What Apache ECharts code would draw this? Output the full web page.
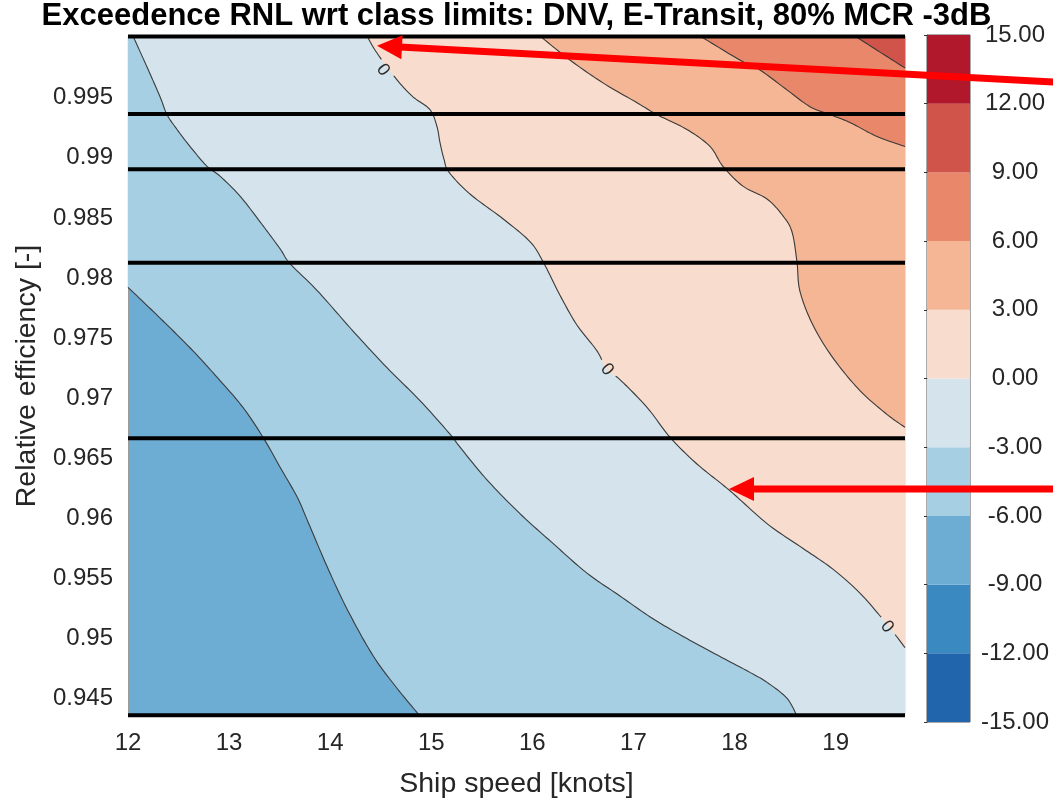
<!DOCTYPE html>
<html>
<head>
<meta charset="utf-8">
<script src="https://cdn.jsdelivr.net/npm/echarts@6/dist/echarts.min.js"></script>
<style>
  html, body { margin: 0; padding: 0; background: #fff; }
  #main { width: 1053px; height: 804px; }
</style>
</head>
<body>
<div id="main"></div>
<script>
// ---- axis extents ----
const SPEED_MIN = 12, SPEED_MAX = 19.686;
const EFF_MIN = 0.94356, EFF_MAX = 1.00014;

// ---- tick labels ----
const speedTicks = [12, 13, 14, 15, 16, 17, 18, 19];
const effTicks = [0.945, 0.95, 0.955, 0.96, 0.965, 0.97, 0.975, 0.98, 0.985, 0.99, 0.995];

// ---- contour levels (dB) and band colours ----
const levels = [-15, -12, -9, -6, -3, 0, 3, 6, 9, 12, 15];
const levelColors = ['#2166ac', '#3a89c1', '#6eadd3', '#a6cfe3', '#d5e4ec',
                     '#f8dccd', '#f5b696', '#e8876a', '#d0544a', '#b2182b'];

// ---- contour lines, [ship speed (kn), relative efficiency] ----
const contourM6 = [
  [12.000, 0.97923], [12.317, 0.97667], [12.643, 0.97394], [12.910, 0.97147],
  [13.137, 0.96924], [13.335, 0.96676], [13.503, 0.96428], [13.672, 0.96180],
  [13.771, 0.95990], [13.968, 0.95602], [14.166, 0.95247], [14.423, 0.94859],
  [14.661, 0.94587], [14.888, 0.94356]
];
const contourM3 = [
  [12.049, 1.00014], [12.188, 0.99756], [12.317, 0.99508], [12.386, 0.99360],
  [12.485, 0.99236], [12.613, 0.99095], [12.781, 0.98930], [12.910, 0.98848],
  [13.108, 0.98682], [13.306, 0.98468], [13.503, 0.98245], [13.602, 0.98121],
  [13.869, 0.97898], [14.226, 0.97559], [14.562, 0.97254], [14.888, 0.96981],
  [15.185, 0.96701], [15.284, 0.96593], [15.551, 0.96321], [15.877, 0.96040],
  [16.204, 0.95792], [16.540, 0.95545], [16.866, 0.95355], [17.193, 0.95165],
  [17.529, 0.95000], [17.856, 0.94851], [18.152, 0.94719], [18.321, 0.94636],
  [18.518, 0.94504], [18.617, 0.94356]
];
const contour0 = [
  [14.364, 1.00014], [14.463, 0.99872], [14.661, 0.99649], [14.819, 0.99508],
  [14.987, 0.99401], [15.056, 0.99261], [15.086, 0.99128], [15.126, 0.98988],
  [15.175, 0.98881], [15.383, 0.98699], [15.709, 0.98493], [15.976, 0.98303],
  [16.105, 0.98137], [16.273, 0.97857], [16.441, 0.97609], [16.639, 0.97394],
  [16.738, 0.97237], [16.866, 0.97155], [17.134, 0.96924], [17.361, 0.96676],
  [17.628, 0.96453], [17.955, 0.96230], [18.321, 0.95957], [18.647, 0.95767],
  [18.973, 0.95578], [19.240, 0.95379], [19.438, 0.95190], [19.537, 0.95090],
  [19.686, 0.94925]
];
const contour3 = [
  [16.075, 1.00014], [16.372, 0.99814], [16.698, 0.99624], [17.035, 0.99459],
  [17.232, 0.99360], [17.529, 0.99236], [17.757, 0.99095], [17.885, 0.98930],
  [18.083, 0.98765], [18.321, 0.98658], [18.479, 0.98517], [18.568, 0.98385],
  [18.617, 0.98137], [18.647, 0.97890], [18.775, 0.97609], [18.973, 0.97336],
  [19.240, 0.97064], [19.507, 0.96866], [19.686, 0.96758]
];
const contour6 = [
  [17.658, 1.00014], [18.053, 0.99814], [18.251, 0.99731], [18.518, 0.99566],
  [18.746, 0.99426], [18.944, 0.99360], [19.142, 0.99294], [19.409, 0.99178],
  [19.686, 0.99095]
];
const contour9 = [
  [19.191, 1.00014], [19.409, 0.99896], [19.686, 0.99748]
];

// positions of the "0" labels on the 0 dB contour
const zeroLabels = [[14.522, 0.99731], [16.738, 0.97237], [19.507, 0.95099]];

// reference efficiencies drawn as thick horizontal lines
const refEfficiencies = [1.0001, 0.99365, 0.98905, 0.98127, 0.96668, 0.94362];

// annotation arrows: tip and tail in [speed, efficiency]
const arrowTips = [[14.463, 0.99932], [17.945, 0.96244]];
const arrowTails = [[21.219, 0.99629], [21.219, 0.96244]];

const FONT = '"Liberation Sans", Arial, Helvetica, sans-serif';
const TXT = '#262626';

const contours = [
  { level: -6, pts: contourM6, corners: ['BR', 'TR', 'TL'] },
  { level: -3, pts: contourM3, corners: ['BR', 'TR'] },
  { level: 0,  pts: contour0,  corners: ['TR'], labels: zeroLabels },
  { level: 3,  pts: contour3,  corners: ['TR'] },
  { level: 6,  pts: contour6,  corners: ['TR'] },
  { level: 9,  pts: contour9,  corners: ['TR'] }
];
const cornerValues = {
  TL: [SPEED_MIN, EFF_MAX], TR: [SPEED_MAX, EFF_MAX], BR: [SPEED_MAX, EFF_MIN]
};

// Catmull-Rom resampling of a pixel polyline
function smoothLine(pts, n) {
  const out = [];
  const f = (a, b, c, d, t) => {
    const t2 = t * t, t3 = t2 * t;
    return 0.5 * (2 * b + (-a + c) * t + (2 * a - 5 * b + 4 * c - d) * t2 + (-a + 3 * b - 3 * c + d) * t3);
  };
  for (let i = 0; i < pts.length - 1; i++) {
    const p0 = pts[Math.max(i - 1, 0)], p1 = pts[i], p2 = pts[i + 1], p3 = pts[Math.min(i + 2, pts.length - 1)];
    for (let k = 0; k < n; k++) {
      const t = k / n;
      out.push([f(p0[0], p1[0], p2[0], p3[0], t), f(p0[1], p1[1], p2[1], p3[1], t)]);
    }
  }
  out.push(pts[pts.length - 1].slice());
  return out;
}

// break a dense polyline where it passes under a label
function splitAround(pts, centers, r) {
  const segs = [];
  let cur = [];
  pts.forEach(p => {
    const hidden = centers.some(c => Math.hypot(p[0] - c[0], p[1] - c[1]) < r);
    if (hidden) { if (cur.length > 1) segs.push(cur); cur = []; }
    else cur.push(p);
  });
  if (cur.length > 1) segs.push(cur);
  return segs;
}

function contourSeries(c) {
  const fill = levelColors[levels.indexOf(c.level)];
  return {
    type: 'custom',
    xAxisIndex: 0, yAxisIndex: 0,
    data: c.pts,
    silent: true,
    renderItem: function (params, api) {
      if (params.dataIndex !== 0) return null;
      const px = c.pts.map(p => api.coord(p));
      const dense = smoothLine(px, 12);
      const poly = dense.concat(c.corners.map(k => api.coord(cornerValues[k])));
      const children = [{
        type: 'polygon',
        shape: { points: poly },
        style: { fill: fill, stroke: fill, lineWidth: 0.5 }
      }];
      const labelPx = (c.labels || []).map(l => api.coord(l));
      splitAround(dense, labelPx, 10).forEach(seg => {
        children.push({
          type: 'polyline',
          shape: { points: seg },
          style: { stroke: '#3a3a3a', lineWidth: 1.1, fill: null }
        });
      });
      labelPx.forEach(lp => {
        let best = 0, bd = Infinity;
        dense.forEach((p, i) => {
          const d = Math.hypot(p[0] - lp[0], p[1] - lp[1]);
          if (d < bd) { bd = d; best = i; }
        });
        const a = dense[Math.max(best - 4, 0)], b = dense[Math.min(best + 4, dense.length - 1)];
        const ang = -Math.atan2(b[1] - a[1], b[0] - a[0]);
        children.push({
          type: 'text',
          x: lp[0], y: lp[1],
          rotation: ang,
          style: {
            text: String(c.level), fill: '#2b2b2b', font: '18px ' + FONT,
            align: 'center', verticalAlign: 'middle'
          }
        });
      });
      return { type: 'group', children: children };
    }
  };
}

const colorbarBands = levels.slice(0, -1).map((lo, i) => [lo, levels[i + 1]]);

const chart = echarts.init(document.getElementById('main'), null, { renderer: 'canvas' });

const option = {
  animation: false,
  backgroundColor: '#ffffff',
  grid: [
    { left: 128, top: 36, width: 777, height: 685, show: true,
      backgroundColor: levelColors[2], borderWidth: 0 },
    { left: 927, top: 35, width: 43, height: 687, show: true,
      backgroundColor: 'transparent', borderColor: '#555555', borderWidth: 1 }
  ],
  xAxis: [
    {
      type: 'value', gridIndex: 0, min: SPEED_MIN, max: SPEED_MAX,
      name: 'Ship speed [knots]', nameLocation: 'middle', nameGap: 54,
      nameTextStyle: { fontFamily: FONT, fontSize: 28.5, color: TXT },
      axisLine: { show: false }, axisTick: { show: false }, splitLine: { show: false },
      axisLabel: {
        customValues: speedTicks, margin: 15,
        fontFamily: FONT, fontSize: 24, color: TXT,
        formatter: v => String(v)
      }
    },
    { type: 'value', gridIndex: 1, min: 0, max: 1, show: false }
  ],
  yAxis: [
    {
      type: 'value', gridIndex: 0, min: EFF_MIN, max: EFF_MAX,
      name: 'Relative efficiency [-]', nameLocation: 'middle', nameGap: 84,
      nameTextStyle: { fontFamily: FONT, fontSize: 28.5, color: TXT },
      axisLine: { show: true, lineStyle: { color: '#9a9a9a', width: 1 } },
      axisTick: { show: false }, splitLine: { show: false },
      axisLabel: {
        customValues: effTicks, margin: 15,
        fontFamily: FONT, fontSize: 24, color: TXT,
        formatter: v => String(+v.toFixed(3))
      }
    },
    {
      type: 'value', gridIndex: 1, position: 'right', min: -15, max: 15, interval: 3,
      axisLine: { show: true, lineStyle: { color: '#555555', width: 1 } },
      axisTick: { show: true, inside: true, length: 3, lineStyle: { color: '#333333' } },
      splitLine: { show: false },
      axisLabel: {
        margin: 45, align: 'center',
        fontFamily: FONT, fontSize: 24, color: TXT,
        formatter: v => v.toFixed(2)
      }
    }
  ],
  series: contours.map(contourSeries).concat([
    {
      // thick reference lines
      type: 'custom', xAxisIndex: 0, yAxisIndex: 0, silent: true,
      data: refEfficiencies.map(v => [SPEED_MIN, v]),
      renderItem: function (params, api) {
        const v = api.value(1);
        const a = api.coord([SPEED_MIN, v]), b = api.coord([SPEED_MAX, v]);
        return {
          type: 'line',
          shape: { x1: a[0], y1: a[1], x2: b[0], y2: b[1] },
          style: { stroke: '#000000', lineWidth: 4 }
        };
      }
    },
    {
      // colour bar
      type: 'custom', xAxisIndex: 1, yAxisIndex: 1, silent: true,
      data: colorbarBands,
      renderItem: function (params, api) {
        const lo = api.value(0), hi = api.value(1);
        const p1 = api.coord([0, hi]), p2 = api.coord([1, lo]);
        return {
          type: 'rect',
          shape: { x: p1[0], y: p1[1], width: p2[0] - p1[0], height: p2[1] - p1[1] },
          style: { fill: levelColors[params.dataIndex] }
        };
      }
    }
  ])
};
chart.setOption(option);

// title and annotation arrows, placed from the grid's own coordinate system
const graphics = [];
const cx = chart.convertToPixel({ gridIndex: 0 }, [(SPEED_MIN + SPEED_MAX) / 2, EFF_MAX])[0];
graphics.push({
  type: 'text', x: cx, y: 16, z: 100,
  style: {
    text: 'Exceedence RNL wrt class limits: DNV, E-Transit, 80% MCR -3dB',
    font: 'bold 31px ' + FONT, fill: '#000000', align: 'center', verticalAlign: 'middle'
  }
});
arrowTips.forEach((tipV, i) => {
  const tip = chart.convertToPixel({ gridIndex: 0 }, tipV);
  const tail = chart.convertToPixel({ gridIndex: 0 }, arrowTails[i]);
  const dx = tip[0] - tail[0], dy = tip[1] - tail[1];
  const len = Math.hypot(dx, dy), ux = dx / len, uy = dy / len;
  const headLen = 25, headHalf = 12;
  const bx = tip[0] - ux * headLen, by = tip[1] - uy * headLen;
  graphics.push({
    type: 'line', z: 100,
    shape: { x1: tail[0], y1: tail[1], x2: bx + ux * 2, y2: by + uy * 2 },
    style: { stroke: '#ff0000', lineWidth: 7 }
  });
  graphics.push({
    type: 'polygon', z: 100,
    shape: { points: [tip, [bx - uy * headHalf, by + ux * headHalf], [bx + uy * headHalf, by - ux * headHalf]] },
    style: { fill: '#ff0000' }
  });
});
chart.setOption({ graphic: graphics });
</script>
</body>
</html>
